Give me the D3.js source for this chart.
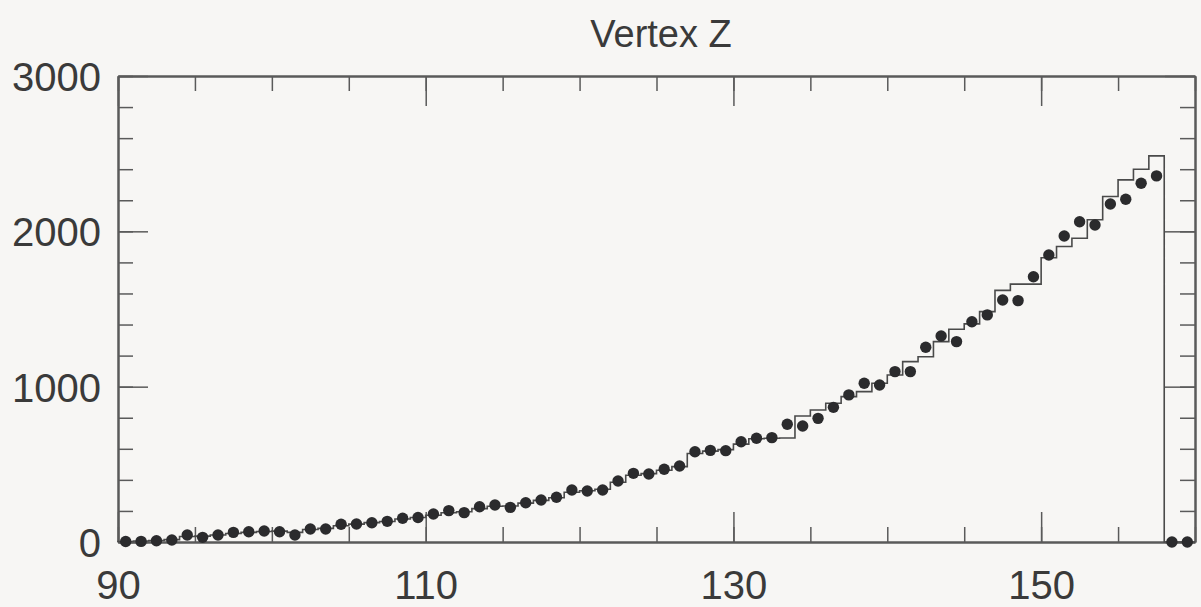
<!DOCTYPE html>
<html>
<head>
<meta charset="utf-8">
<script src="https://cdn.jsdelivr.net/npm/d3@7"></script>
<style>
  html, body { margin: 0; padding: 0; background: #f7f6f4; }
  svg { display: block; }
  text { font-family: "Liberation Sans", Arial, Helvetica, sans-serif; }
</style>
</head>
<body>
<svg id="chart" width="1201" height="607"></svg>
<script>
// Vertex Z distribution: measured counts (dots) and simulated histogram (steps), 1 cm bins
const binLow = d3.range(90, 160);            // lower edge of each bin, 90 .. 159
const dataCounts = [
  3, 4, 8, 13, 45, 30, 45, 62, 66, 71,
  66, 45, 84, 84, 114, 116, 124, 133, 153, 158,
  180, 202, 189, 227, 238, 223, 253, 270, 288, 335,
  328, 335, 393, 442, 438, 468, 489, 581, 590, 588,
  645, 668, 672, 758, 747, 796, 867, 947, 1022, 1011,
  1097, 1097, 1254, 1326, 1290, 1418, 1462, 1558, 1554, 1708,
  1848, 1970, 2062, 2041, 2176, 2207, 2310, 2357, 0, 0
];
const simCounts = [
  3, 6, 10, 15, 35, 38, 45, 55, 62, 68,
  70, 62, 80, 88, 105, 115, 125, 132, 148, 158,
  172, 188, 195, 215, 230, 232, 250, 268, 285, 320,
  330, 340, 385, 430, 440, 462, 485, 570, 585, 595,
  630, 665, 668, 670, 811, 850, 893, 936, 968, 1022,
  1075, 1161, 1193, 1290, 1370, 1404, 1483, 1620, 1660, 1660,
  1830, 1902, 1955, 2075, 2224, 2331, 2400, 2486, 0, 0
];
const xMajorTicks = [90, 110, 130, 150];
const xMinorTicks = d3.range(90, 161, 5);
const yMajorTicks = [0, 1000, 2000, 3000];
const yMinorTicks = d3.range(0, 3001, 200);
const titleText = "Vertex Z";

const svg = d3.select("#chart");
const ink = "#3a3a3a";
const frameColor = "#5a5a5a";

const x = d3.scaleLinear().domain([90, 160]).range([118, 1195]);
const y = d3.scaleLinear().domain([0, 3000]).range([542, 76]);

const minorLen = 15, majorLen = 30;

function styleAxis(g) {
  g.selectAll("path.domain").attr("stroke", frameColor).attr("stroke-width", 2);
  g.selectAll(".tick line").attr("stroke", frameColor).attr("stroke-width", 1.5);
}

// Bottom axis: minor ticks, then major ticks with labels
svg.append("g").attr("transform", `translate(0,${y(0)})`)
  .call(d3.axisBottom(x).tickValues(xMinorTicks).tickSize(-minorLen).tickSizeOuter(0).tickFormat(""))
  .call(styleAxis);
svg.append("g").attr("transform", `translate(0,${y(0)})`)
  .call(d3.axisBottom(x).tickValues(xMajorTicks).tickSize(-majorLen).tickSizeOuter(0).tickPadding(29))
  .call(styleAxis)
  .call(g => g.selectAll(".tick text").attr("font-size", 40).attr("fill", ink)
    .attr("font-family", "Liberation Sans, Arial, sans-serif"));

// Top axis (ticks only)
svg.append("g").attr("transform", `translate(0,${y(3000)})`)
  .call(d3.axisTop(x).tickValues(xMinorTicks).tickSize(-minorLen).tickSizeOuter(0).tickFormat(""))
  .call(styleAxis);
svg.append("g").attr("transform", `translate(0,${y(3000)})`)
  .call(d3.axisTop(x).tickValues(xMajorTicks).tickSize(-majorLen).tickSizeOuter(0).tickFormat(""))
  .call(styleAxis);

// Left axis with labels
svg.append("g").attr("transform", `translate(${x(90)},0)`)
  .call(d3.axisLeft(y).tickValues(yMinorTicks).tickSize(-minorLen).tickSizeOuter(0).tickFormat(""))
  .call(styleAxis);
svg.append("g").attr("transform", `translate(${x(90)},0)`)
  .call(d3.axisLeft(y).tickValues(yMajorTicks).tickSize(-majorLen).tickSizeOuter(0).tickPadding(17).tickFormat(d3.format("d")))
  .call(styleAxis)
  .call(g => g.selectAll(".tick text").attr("font-size", 40).attr("fill", ink)
    .attr("font-family", "Liberation Sans, Arial, sans-serif").attr("dy", "0.36em"));

// Right axis (ticks only)
svg.append("g").attr("transform", `translate(${x(160)},0)`)
  .call(d3.axisRight(y).tickValues(yMinorTicks).tickSize(-minorLen).tickSizeOuter(0).tickFormat(""))
  .call(styleAxis);
svg.append("g").attr("transform", `translate(${x(160)},0)`)
  .call(d3.axisRight(y).tickValues(yMajorTicks).tickSize(-majorLen).tickSizeOuter(0).tickFormat(""))
  .call(styleAxis);

// Simulated histogram as a step outline
const stepPts = [[90, 0]]
  .concat(binLow.map((b, i) => [b, simCounts[i]]))
  .concat([[160, simCounts[simCounts.length - 1]]]);
const stepLine = d3.line()
  .x(d => x(d[0]))
  .y(d => y(d[1]))
  .curve(d3.curveStepAfter);
svg.append("path")
  .datum(stepPts)
  .attr("d", stepLine)
  .attr("fill", "none")
  .attr("stroke", "#4a4a4a")
  .attr("stroke-width", 1.6);

// Measured counts as filled dots at bin centres
svg.append("g")
  .selectAll("circle")
  .data(binLow.map((b, i) => ({ c: b + 0.5, v: dataCounts[i] })))
  .join("circle")
  .attr("cx", d => x(d.c))
  .attr("cy", d => y(d.v))
  .attr("r", 5.7)
  .attr("fill", "#2b2b2d");

// Title
svg.append("text")
  .attr("x", 661)
  .attr("y", 47)
  .attr("text-anchor", "middle")
  .attr("font-size", 38)
  .attr("fill", ink)
  .text(titleText);
</script>
</body>
</html>
